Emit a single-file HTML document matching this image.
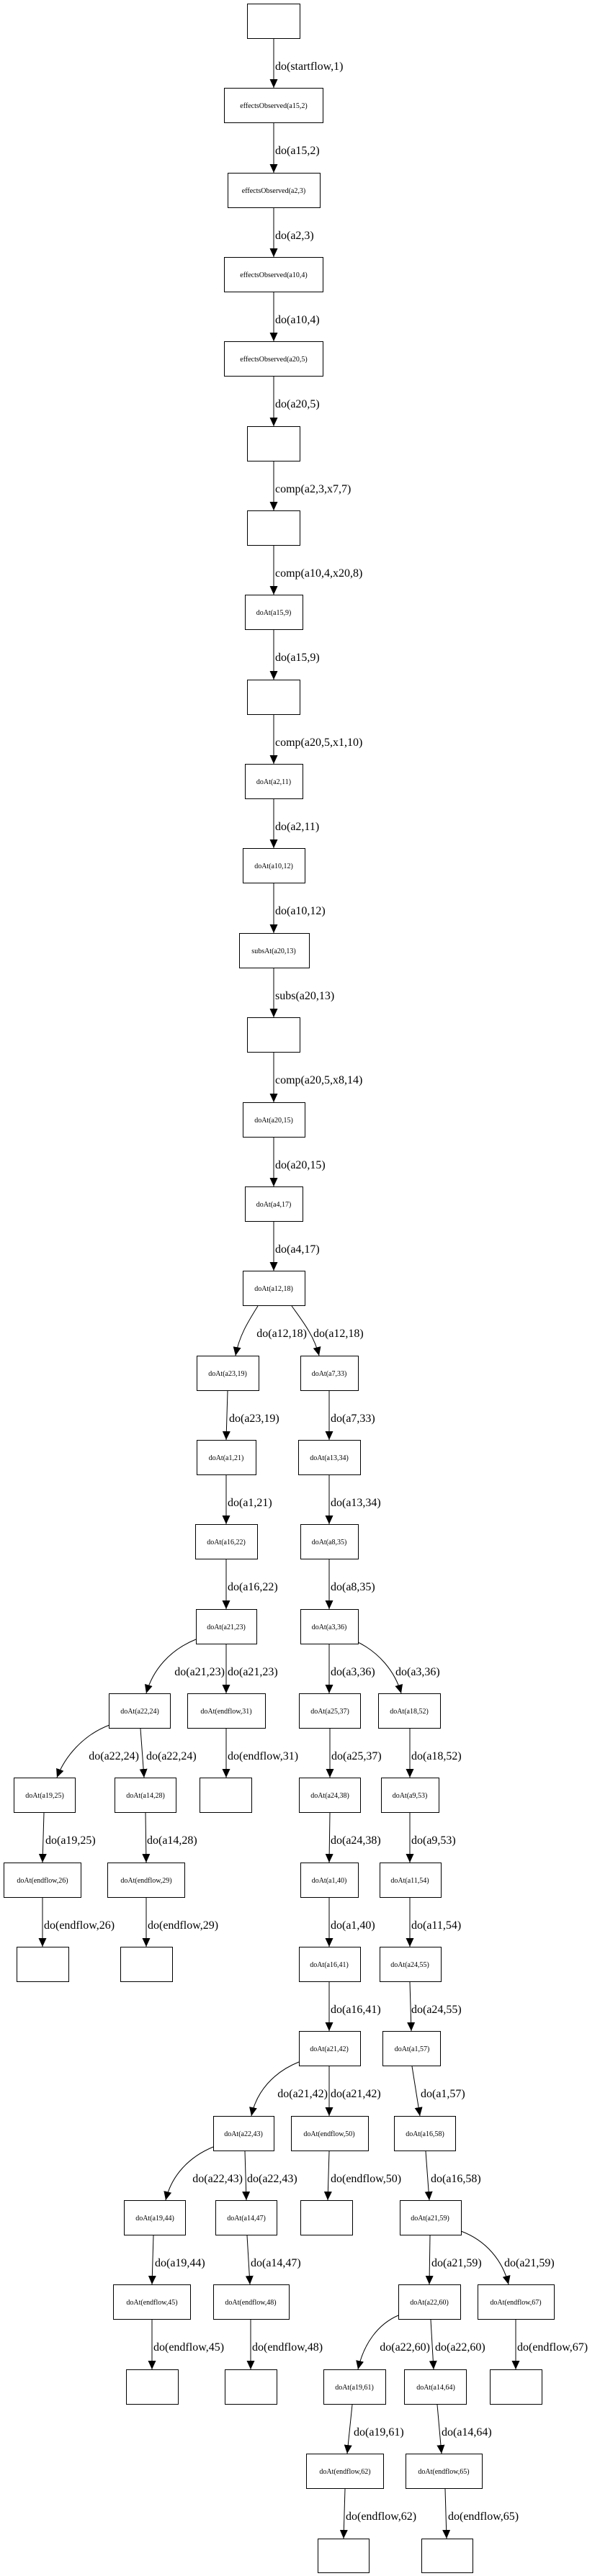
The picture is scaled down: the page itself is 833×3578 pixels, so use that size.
<!DOCTYPE html>
<html><head><meta charset="utf-8"><style>
html,body{margin:0;padding:0;background:#fff;}
svg{display:block;}
.n{fill:#fff;stroke:#000;stroke-width:1;}
.t{font-family:"Liberation Serif",serif;font-size:10px;text-anchor:middle;fill:#000;}
.l{font-family:"Liberation Serif",serif;font-size:16px;fill:#000;}
.r{text-anchor:end;}
.e{fill:none;stroke:#000;stroke-width:1;marker-end:url(#ah);}
</style></head><body>
<svg width="833" height="3578" viewBox="0 0 833 3578" xmlns="http://www.w3.org/2000/svg">
<defs><marker id="ah" markerUnits="userSpaceOnUse" markerWidth="12" markerHeight="11" refX="12" refY="5.5" orient="auto"><path d="M0,0 L12,5.5 L0,11 z" fill="#000"/></marker></defs>

<!-- chain nodes -->
<rect class="n" x="343.5" y="5.5" width="73" height="48"/>
<rect class="n" x="311.5" y="122.5" width="137" height="48"/><text class="t" x="380" y="150">effectsObserved(a15,2)</text>
<rect class="n" x="316.5" y="240.5" width="128" height="48"/><text class="t" x="380" y="268">effectsObserved(a2,3)</text>
<rect class="n" x="311.5" y="357.5" width="137" height="48"/><text class="t" x="380" y="385">effectsObserved(a10,4)</text>
<rect class="n" x="311.5" y="474.5" width="137" height="48"/><text class="t" x="380" y="502">effectsObserved(a20,5)</text>
<rect class="n" x="343.5" y="592.5" width="73" height="48"/>
<rect class="n" x="343.5" y="709.5" width="73" height="48"/>
<rect class="n" x="340.5" y="826.5" width="80" height="48"/><text class="t" x="380" y="854">doAt(a15,9)</text>
<rect class="n" x="343.5" y="944.5" width="73" height="48"/>
<rect class="n" x="340.5" y="1061.5" width="80" height="48"/><text class="t" x="380" y="1089">doAt(a2,11)</text>
<rect class="n" x="337.5" y="1178.5" width="86" height="48"/><text class="t" x="380" y="1206">doAt(a10,12)</text>
<rect class="n" x="332.5" y="1296.5" width="97" height="48"/><text class="t" x="380" y="1324">subsAt(a20,13)</text>
<rect class="n" x="343.5" y="1413.5" width="73" height="48"/>
<rect class="n" x="337.5" y="1531.5" width="86" height="48"/><text class="t" x="380" y="1559">doAt(a20,15)</text>
<rect class="n" x="340.5" y="1648.5" width="80" height="48"/><text class="t" x="380" y="1676">doAt(a4,17)</text>
<rect class="n" x="337.5" y="1765.5" width="86" height="48"/><text class="t" x="380" y="1793">doAt(a12,18)</text>

<!-- chain edges -->
<path class="e" d="M380,54 L380,122"/><text class="l" x="382" y="97">do(startflow,1)</text>
<path class="e" d="M380,171 L380,240"/><text class="l" x="382" y="214">do(a15,2)</text>
<path class="e" d="M380,289 L380,357"/><text class="l" x="382" y="332">do(a2,3)</text>
<path class="e" d="M380,406 L380,474"/><text class="l" x="382" y="449">do(a10,4)</text>
<path class="e" d="M380,523 L380,592"/><text class="l" x="382" y="566">do(a20,5)</text>
<path class="e" d="M380,641 L380,709"/><text class="l" x="382" y="684">comp(a2,3,x7,7)</text>
<path class="e" d="M380,758 L380,826"/><text class="l" x="382" y="801">comp(a10,4,x20,8)</text>
<path class="e" d="M380,875 L380,944"/><text class="l" x="382" y="918">do(a15,9)</text>
<path class="e" d="M380,993 L380,1061"/><text class="l" x="382" y="1036">comp(a20,5,x1,10)</text>
<path class="e" d="M380,1110 L380,1178"/><text class="l" x="382" y="1153">do(a2,11)</text>
<path class="e" d="M380,1227 L380,1296"/><text class="l" x="382" y="1270">do(a10,12)</text>
<path class="e" d="M380,1345 L380,1413"/><text class="l" x="382" y="1388">subs(a20,13)</text>
<path class="e" d="M380,1462 L380,1531"/><text class="l" x="382" y="1505">comp(a20,5,x8,14)</text>
<path class="e" d="M380,1580 L380,1648"/><text class="l" x="382" y="1623">do(a20,15)</text>
<path class="e" d="M380,1697 L380,1765"/><text class="l" x="382" y="1740">do(a4,17)</text>

<!-- row 16 branch -->
<path class="e" d="M358,1814 C345,1835 332,1855 327,1883"/><text class="l r" x="426" y="1857">do(a12,18)</text>
<path class="e" d="M405,1814 C420,1835 436,1855 443,1883"/><text class="l" x="435" y="1857">do(a12,18)</text>

<!-- row 17 -->
<rect class="n" x="273.5" y="1883.5" width="86" height="48"/><text class="t" x="316" y="1911">doAt(a23,19)</text>
<rect class="n" x="417.5" y="1883.5" width="80" height="48"/><text class="t" x="457" y="1911">doAt(a7,33)</text>
<path class="e" d="M316,1932 L314,2000"/><text class="l" x="318" y="1975">do(a23,19)</text>
<path class="e" d="M457,1932 L457,2000"/><text class="l" x="459" y="1975">do(a7,33)</text>

<!-- row 18 -->
<rect class="n" x="273.5" y="2000.5" width="82" height="48"/><text class="t" x="314" y="2028">doAt(a1,21)</text>
<rect class="n" x="414.5" y="2000.5" width="86" height="48"/><text class="t" x="457" y="2028">doAt(a13,34)</text>
<path class="e" d="M314,2049 L314,2117"/><text class="l" x="316" y="2092">do(a1,21)</text>
<path class="e" d="M457,2049 L457,2117"/><text class="l" x="459" y="2092">do(a13,34)</text>

<!-- row 19 -->
<rect class="n" x="271.5" y="2117.5" width="86" height="48"/><text class="t" x="314" y="2145">doAt(a16,22)</text>
<rect class="n" x="417.5" y="2117.5" width="80" height="48"/><text class="t" x="457" y="2145">doAt(a8,35)</text>
<path class="e" d="M314,2166 L314,2235"/><text class="l" x="316" y="2209">do(a16,22)</text>
<path class="e" d="M457,2166 L457,2235"/><text class="l" x="459" y="2209">do(a8,35)</text>

<!-- row 20 -->
<rect class="n" x="272.5" y="2235.5" width="84" height="48"/><text class="t" x="314" y="2263">doAt(a21,23)</text>
<rect class="n" x="417.5" y="2235.5" width="80" height="48"/><text class="t" x="457" y="2263">doAt(a3,36)</text>
<path class="e" d="M272,2277 C235,2292 212,2320 203,2352"/><text class="l r" x="312" y="2327">do(a21,23)</text>
<path class="e" d="M314,2284 L314,2352"/><text class="l" x="316" y="2327">do(a21,23)</text>
<path class="e" d="M457,2284 L457,2352"/><text class="l" x="459" y="2327">do(a3,36)</text>
<path class="e" d="M497,2281 C525,2295 548,2320 557,2352"/><text class="l" x="549" y="2327">do(a3,36)</text>

<!-- row 21 -->
<rect class="n" x="151.5" y="2352.5" width="85" height="48"/><text class="t" x="194" y="2380">doAt(a22,24)</text>
<rect class="n" x="260.5" y="2352.5" width="108" height="48"/><text class="t" x="314" y="2380">doAt(endflow,31)</text>
<rect class="n" x="415.5" y="2352.5" width="85" height="48"/><text class="t" x="458" y="2380">doAt(a25,37)</text>
<rect class="n" x="525.5" y="2352.5" width="86" height="48"/><text class="t" x="568" y="2380">doAt(a18,52)</text>
<path class="e" d="M152,2396 C115,2410 90,2440 79,2469"/><text class="l r" x="193" y="2444">do(a22,24)</text>
<path class="e" d="M195,2401 L200,2469"/><text class="l" x="203" y="2444">do(a22,24)</text>
<path class="e" d="M314,2401 L314,2469"/><text class="l" x="316" y="2444">do(endflow,31)</text>
<path class="e" d="M458,2401 L458,2469"/><text class="l" x="460" y="2444">do(a25,37)</text>
<path class="e" d="M569,2401 L569,2469"/><text class="l" x="571" y="2444">do(a18,52)</text>

<!-- row 22 -->
<rect class="n" x="19.5" y="2469.5" width="85" height="48"/><text class="t" x="62" y="2497">doAt(a19,25)</text>
<rect class="n" x="159.5" y="2469.5" width="85" height="48"/><text class="t" x="202" y="2497">doAt(a14,28)</text>
<rect class="n" x="277.5" y="2469.5" width="72" height="48"/>
<rect class="n" x="415.5" y="2469.5" width="85" height="48"/><text class="t" x="458" y="2497">doAt(a24,38)</text>
<rect class="n" x="529.5" y="2469.5" width="80" height="48"/><text class="t" x="569" y="2497">doAt(a9,53)</text>
<path class="e" d="M61,2518 L59,2587"/><text class="l" x="63" y="2561">do(a19,25)</text>
<path class="e" d="M202,2518 L203,2587"/><text class="l" x="204" y="2561">do(a14,28)</text>
<path class="e" d="M458,2518 L457,2587"/><text class="l" x="459" y="2561">do(a24,38)</text>
<path class="e" d="M569,2518 L569,2587"/><text class="l" x="571" y="2561">do(a9,53)</text>

<!-- row 23 -->
<rect class="n" x="5.5" y="2587.5" width="107" height="48"/><text class="t" x="59" y="2615">doAt(endflow,26)</text>
<rect class="n" x="149.5" y="2587.5" width="107" height="48"/><text class="t" x="203" y="2615">doAt(endflow,29)</text>
<rect class="n" x="417.5" y="2587.5" width="80" height="48"/><text class="t" x="457" y="2615">doAt(a1,40)</text>
<rect class="n" x="527.5" y="2587.5" width="85" height="48"/><text class="t" x="569" y="2615">doAt(a11,54)</text>
<path class="e" d="M59,2636 L59,2704"/><text class="l" x="61" y="2679">do(endflow,26)</text>
<path class="e" d="M203,2636 L203,2704"/><text class="l" x="205" y="2679">do(endflow,29)</text>
<path class="e" d="M457,2636 L457,2704"/><text class="l" x="459" y="2679">do(a1,40)</text>
<path class="e" d="M569,2636 L569,2704"/><text class="l" x="571" y="2679">do(a11,54)</text>

<!-- row 24 -->
<rect class="n" x="23.5" y="2704.5" width="72" height="48"/>
<rect class="n" x="167.5" y="2704.5" width="72" height="48"/>
<rect class="n" x="415.5" y="2704.5" width="85" height="48"/><text class="t" x="457" y="2732">doAt(a16,41)</text>
<rect class="n" x="527.5" y="2704.5" width="85" height="48"/><text class="t" x="569" y="2732">doAt(a24,55)</text>
<path class="e" d="M457,2753 L457,2821"/><text class="l" x="459" y="2796">do(a16,41)</text>
<path class="e" d="M569,2753 L571,2821"/><text class="l" x="571" y="2796">do(a24,55)</text>

<!-- row 25 -->
<rect class="n" x="415.5" y="2821.5" width="85" height="48"/><text class="t" x="457" y="2849">doAt(a21,42)</text>
<rect class="n" x="531.5" y="2821.5" width="80" height="48"/><text class="t" x="572" y="2849">doAt(a1,57)</text>
<path class="e" d="M415,2864 C380,2878 356,2905 349,2939"/><text class="l r" x="455" y="2913">do(a21,42)</text>
<path class="e" d="M457,2870 L457,2939"/><text class="l" x="459" y="2913">do(a21,42)</text>
<path class="e" d="M572,2870 L583,2939"/><text class="l" x="584" y="2913">do(a1,57)</text>

<!-- row 26 -->
<rect class="n" x="296.5" y="2939.5" width="84" height="48"/><text class="t" x="338" y="2967">doAt(a22,43)</text>
<rect class="n" x="404.5" y="2939.5" width="107" height="48"/><text class="t" x="457" y="2967">doAt(endflow,50)</text>
<rect class="n" x="547.5" y="2939.5" width="85" height="48"/><text class="t" x="590" y="2967">doAt(a16,58)</text>
<path class="e" d="M296,2982 C262,2996 238,3022 230,3056"/><text class="l r" x="337" y="3031">do(a22,43)</text>
<path class="e" d="M340,2988 L342,3056"/><text class="l" x="343" y="3031">do(a22,43)</text>
<path class="e" d="M457,2988 L455,3056"/><text class="l" x="459" y="3031">do(endflow,50)</text>
<path class="e" d="M591,2988 L596,3056"/><text class="l" x="598" y="3031">do(a16,58)</text>

<!-- row 27 -->
<rect class="n" x="172.5" y="3056.5" width="85" height="48"/><text class="t" x="215" y="3084">doAt(a19,44)</text>
<rect class="n" x="299.5" y="3056.5" width="85" height="48"/><text class="t" x="342" y="3084">doAt(a14,47)</text>
<rect class="n" x="417.5" y="3056.5" width="72" height="48"/>
<rect class="n" x="555.5" y="3056.5" width="85" height="48"/><text class="t" x="597" y="3084">doAt(a21,59)</text>
<path class="e" d="M213,3105 L211,3173"/><text class="l" x="215" y="3148">do(a19,44)</text>
<path class="e" d="M343,3105 L347,3173"/><text class="l" x="348" y="3148">do(a14,47)</text>
<path class="e" d="M597,3105 L596,3173"/><text class="l" x="599" y="3148">do(a21,59)</text>
<path class="e" d="M640,3099 C675,3112 698,3140 706,3173"/><text class="l" x="700" y="3148">do(a21,59)</text>

<!-- row 28 -->
<rect class="n" x="157.5" y="3173.5" width="107" height="48"/><text class="t" x="211" y="3201">doAt(endflow,45)</text>
<rect class="n" x="296.5" y="3173.5" width="105" height="48"/><text class="t" x="348" y="3201">doAt(endflow,48)</text>
<rect class="n" x="553.5" y="3173.5" width="86" height="48"/><text class="t" x="596" y="3201">doAt(a22,60)</text>
<rect class="n" x="663.5" y="3173.5" width="106" height="48"/><text class="t" x="716" y="3201">doAt(endflow,67)</text>
<path class="e" d="M211,3222 L211,3291"/><text class="l" x="213" y="3265">do(endflow,45)</text>
<path class="e" d="M348,3222 L348,3291"/><text class="l" x="350" y="3265">do(endflow,48)</text>
<path class="e" d="M553,3216 C525,3228 505,3255 497,3291"/><text class="l r" x="597" y="3265">do(a22,60)</text>
<path class="e" d="M598,3222 L602,3291"/><text class="l" x="604" y="3265">do(a22,60)</text>
<path class="e" d="M716,3222 L716,3291"/><text class="l" x="718" y="3265">do(endflow,67)</text>

<!-- row 29 -->
<rect class="n" x="175.5" y="3291.5" width="72" height="48"/>
<rect class="n" x="312.5" y="3291.5" width="72" height="48"/>
<rect class="n" x="449.5" y="3291.5" width="86" height="48"/><text class="t" x="492" y="3319">doAt(a19,61)</text>
<rect class="n" x="561.5" y="3291.5" width="86" height="48"/><text class="t" x="605" y="3319">doAt(a14,64)</text>
<rect class="n" x="680.5" y="3291.5" width="72" height="48"/>
<path class="e" d="M489,3340 L482,3408"/><text class="l" x="491" y="3383">do(a19,61)</text>
<path class="e" d="M607,3340 L613,3408"/><text class="l" x="613" y="3383">do(a14,64)</text>

<!-- row 30 -->
<rect class="n" x="425.5" y="3408.5" width="107" height="48"/><text class="t" x="479" y="3436">doAt(endflow,62)</text>
<rect class="n" x="563.5" y="3408.5" width="106" height="48"/><text class="t" x="616" y="3436">doAt(endflow,65)</text>
<path class="e" d="M479,3457 L477,3526"/><text class="l" x="480" y="3500">do(endflow,62)</text>
<path class="e" d="M618,3457 L620,3526"/><text class="l" x="622" y="3500">do(endflow,65)</text>

<!-- row 31 -->
<rect class="n" x="441.5" y="3526.5" width="71" height="47"/>
<rect class="n" x="585.5" y="3526.5" width="71" height="47"/>
</svg>
</body></html>
